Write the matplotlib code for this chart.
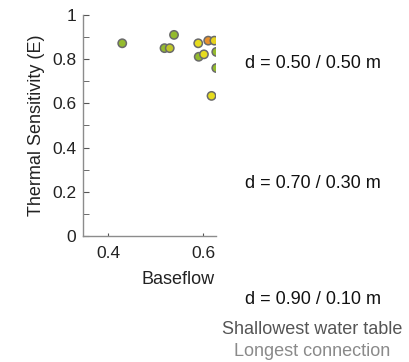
import matplotlib
matplotlib.use("Agg")
import matplotlib.pyplot as plt
from matplotlib.ticker import MultipleLocator

plt.rcParams['font.family'] = ['Liberation Sans', 'DejaVu Sans']

baseflow = [0.430, 0.519, 0.530, 0.539, 0.590, 0.591, 0.602, 0.611, 0.624, 0.628, 0.628, 0.618]
sensitivity = [0.872, 0.850, 0.850, 0.910, 0.872, 0.811, 0.822, 0.884, 0.884, 0.833, 0.760, 0.634]
colors = ['#94bb2e', '#94bb2e', '#c2c828', '#94bb2e', '#e6dc1e', '#94bb2e', '#e6dc1e',
          '#e8902c', '#e6d21e', '#94bb2e', '#94bb2e', '#e6dc1e']

panel_labels = ["d = 0.50 / 0.50 m", "d = 0.70 / 0.30 m", "d = 0.90 / 0.10 m"]
footer1 = "Shallowest water table"
footer2 = "Longest connection"

W, H = 409, 362
fig = plt.figure(figsize=(W/100, H/100), dpi=100)
ax = fig.add_axes([83/W, 1-236/H, (216-83)/W, (236-15)/H])
ax.scatter(baseflow, sensitivity, s=36, c=colors, edgecolors='#6a6a6a', linewidths=1.1, zorder=3)
ax.set_xlim(0.3474, 0.6274)
ax.set_ylim(0, 1)
ax.set_xticks([0.4, 0.6])
ax.set_xticklabels(['0.4', '0.6'])
ax.set_yticks([0, 0.2, 0.4, 0.6, 0.8, 1.0])
ax.set_yticklabels(['0', '0.2', '0.4', '0.6', '0.8', '1'])
ax.yaxis.set_minor_locator(MultipleLocator(0.1))
for s in ['top', 'right']:
    ax.spines[s].set_visible(False)
for s in ['left', 'bottom']:
    ax.spines[s].set_color('#8c8c8c')
    ax.spines[s].set_linewidth(1.0)
ax.tick_params(axis='both', which='both', direction='in', color='#555555', labelsize=12.5, labelcolor='#222222')
ax.tick_params(axis='y', which='major', length=4, pad=5)
ax.tick_params(axis='y', which='minor', length=4)
ax.tick_params(axis='x', which='major', length=2, pad=7)
ax.set_ylabel("Thermal Sensitivity (E)", fontsize=13, color='#222222', labelpad=5)

fig.text(215/W, 1-280/H, "Baseflow", ha='right', va='center', fontsize=13, color='#222222')

ys = [63, 183, 300]
for lab, y in zip(panel_labels, ys):
    fig.text(313/W, 1-y/H, lab, ha='center', va='center', fontsize=13, color='#111111')
fig.text(312/W, 1-330/H, footer1, ha='center', va='center', fontsize=13, color='#555555')
fig.text(312/W, 1-352/H, footer2, ha='center', va='center', fontsize=13, color='#8a8a8a')

fig.savefig("out.png", dpi=100)
